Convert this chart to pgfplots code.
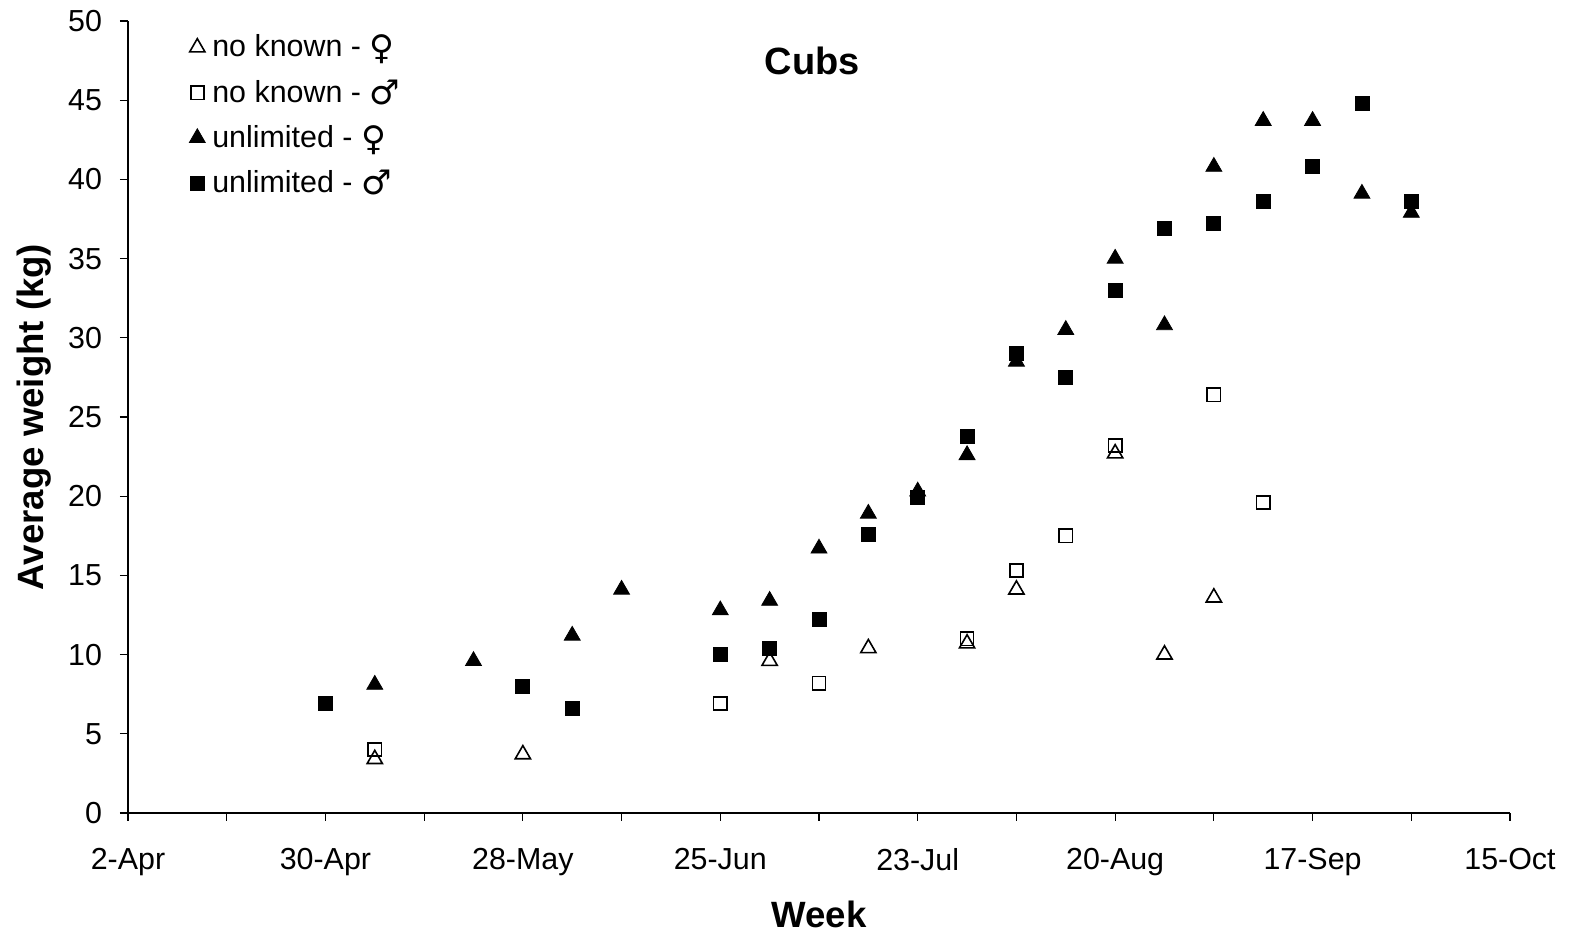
\documentclass[border=0pt]{standalone}
\usepackage{pgfplots}
\pgfplotsset{compat=1.18}
\usetikzlibrary{calc}
\usepackage{fontspec}
\setmainfont{Liberation Sans}
\newfontfamily\symfont{DejaVu Sans}
\newcommand{\female}{\raisebox{-1.5pt}{\symfont\fontsize{17}{17}\selectfont ♀}}
\newcommand{\male}{\raisebox{-1pt}{\symfont\fontsize{17}{17}\selectfont ♂}}

% Days counted from 2 April; one observation per week
\begin{document}
\begin{tikzpicture}
\begin{axis}[
  scale only axis,
  width=691pt, height=396pt,
  xmin=0, xmax=196, ymin=0, ymax=50,
  axis x line*=bottom, axis y line*=left,
  axis line style={black, line width=0.6pt},
  xtick={0,28,...,196},
  xticklabels={2-Apr,30-Apr,28-May,25-Jun,23-Jul,20-Aug,17-Sep,15-Oct},
  minor xtick={14,42,...,182},
  ytick={0,5,...,50},
  tick pos=left,
  tick align=outside,
  major tick length=4pt, minor tick length=4pt,
  tick style={black, line width=0.6pt},
  every tick label/.append style={font=\fontsize{15.2}{17}\selectfont},
  /pgf/number format/assume math mode=true,
  xticklabel style={yshift=-10pt},
  yticklabel style={xshift=-5.5pt},
  xlabel={\textbf{Week}},
  ylabel={\textbf{Average weight (kg)}},
  label style={font=\fontsize{18.3}{20}\selectfont},
  xlabel style={yshift=-6pt},
  ylabel style={yshift=1.5pt},
  clip=false,
  legend cell align=left,
  legend style={draw=none, fill=none, at={(0.037,0.993)}, anchor=north west,
    font=\fontsize{15.2}{17}\selectfont, row sep=6pt},
  legend image code/.code={\draw[#1] plot coordinates {(0.2cm,0cm)};
    \path (0pt,0pt) (11pt,0pt);},
]
% no known - female
\addplot[only marks, mark=triangle, mark size=4.4pt, mark options={draw=black, fill=white, line width=0.8pt}] coordinates {
 (35,3.4) (56,3.7) (91,9.6) (105,10.4) (119,10.7) (126,14.1) (140,22.7) (147,10.0) (154,13.6)
};
\addlegendentry{no known - \female}
% no known - male
\addplot[only marks, mark=square, mark size=3.3pt, mark options={draw=black, fill=white, line width=0.8pt}] coordinates {
 (35,4.0) (84,6.9) (98,8.2) (119,11.0) (126,15.3) (133,17.5) (140,23.2) (154,26.4) (161,19.6)
};
\addlegendentry{no known - \male}
% unlimited - female
\addplot[only marks, mark=triangle*, mark size=4.6pt, mark options={draw=black, fill=black}] coordinates {
 (35,8.1) (49,9.6) (63,11.2) (70,14.1) (84,12.8) (91,13.4) (98,16.7) (105,18.9)
 (112,20.3) (119,22.6) (126,28.5) (133,30.5) (140,35.0) (147,30.8) (154,40.8)
 (161,43.7) (168,43.7) (175,39.1) (182,37.9)
};
\addlegendentry{unlimited - \female}
% unlimited - male
\addplot[only marks, mark=square*, mark size=3.5pt, mark options={draw=black, fill=black}] coordinates {
 (28,6.9) (56,8.0) (63,6.6) (84,10.0) (91,10.4) (98,12.2) (105,17.6) (112,19.9)
 (119,23.8) (126,29.0) (133,27.5) (140,33.0) (147,36.9) (154,37.2) (161,38.6)
 (168,40.8) (175,44.8) (182,38.6)
};
\addlegendentry{unlimited - \male}
\node[font=\bfseries\fontsize{19}{21}\selectfont] at (rel axis cs:0.495,0.95) {Cubs};
\end{axis}
% fixed page frame around the axis box
\pgfresetboundingbox
\path[use as bounding box] ($(current axis.south west)+(-64pt,-63.5pt)$) rectangle ($(current axis.north east)+(32.5pt,10.5pt)$);
\end{tikzpicture}
\end{document}
